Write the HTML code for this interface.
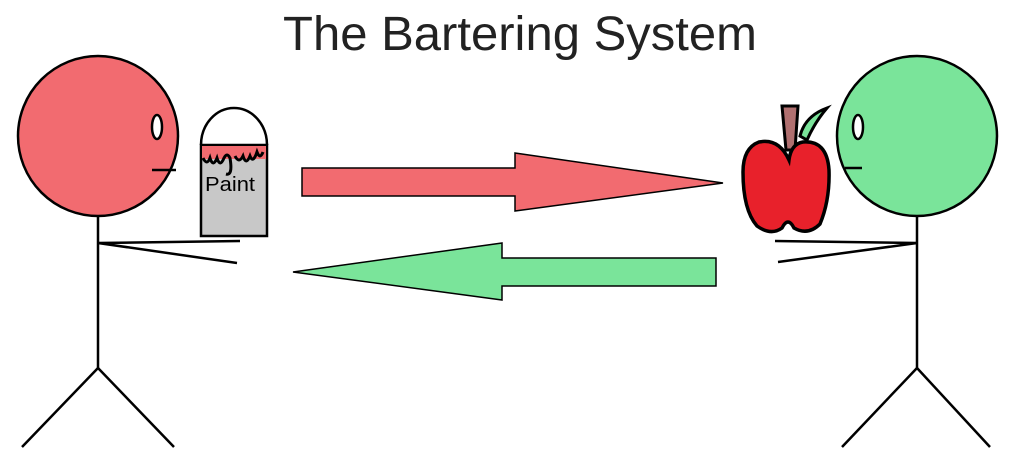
<!DOCTYPE html>
<html><head><meta charset="utf-8"><style>
html,body{margin:0;padding:0;background:#fff;width:1022px;height:468px;overflow:hidden}
svg{display:block}
</style></head><body>
<svg width="1022" height="468" viewBox="0 0 1022 468">
<text x="520" y="50" text-anchor="middle" font-family="Liberation Sans, sans-serif" font-size="48" fill="#222" textLength="474" lengthAdjust="spacingAndGlyphs">The Bartering System</text>
<g stroke="#000" stroke-width="2.5" fill="none">
<circle cx="98" cy="136" r="80" fill="#f26b70"/>
<ellipse cx="157" cy="127" rx="5" ry="12" fill="#fff"/>
<line x1="152" y1="170" x2="176" y2="170"/>
<line x1="98" y1="216" x2="98" y2="368"/>
<line x1="98" y1="243" x2="240" y2="241"/>
<line x1="98" y1="243" x2="237" y2="263"/>
<line x1="98" y1="368" x2="22" y2="447"/>
<line x1="98" y1="368" x2="174" y2="447"/>
</g>
<g>
<path d="M201 145 A33 37 0 0 1 267 145" fill="#fff" stroke="#000" stroke-width="2.5"/>
<rect x="201" y="145" width="66" height="91" fill="#c8c8c8" stroke="#000" stroke-width="2.5"/>
<rect x="202" y="146" width="64" height="13" fill="#f26b70"/>
<path d="M203 158 q4 8 7 0 q3 10 7 0 q3 10 7 0 q3 -6 6 0 q3 18 -4 16 M235 156 q4 8 8 0 q3 10 7 0 q3 8 7 -4 q3 8 6 0" fill="none" stroke="#000" stroke-width="3"/>
<text x="205" y="191" font-family="Liberation Sans, sans-serif" font-size="20" fill="#000" textLength="50" lengthAdjust="spacingAndGlyphs">Paint</text>
</g>
<polygon points="302,168 515,168 515,153 723,183 515,211 515,196 302,196" fill="#f26b70" stroke="#000" stroke-width="1.5"/>
<polygon points="716,258 502,258 502,243 293,272 502,300 502,286 716,286" fill="#7ae49a" stroke="#000" stroke-width="1.5"/>
<g>
<polygon points="782,106 798,106 795,150 786,150" fill="#b07070" stroke="#000" stroke-width="3"/>
<path d="M800 136 q5 -20 27 -28 q-12 14 -20 32 z" fill="#7ae49a" stroke="#000" stroke-width="3"/>
<path d="M789 160 q-10 -22 -30 -18 q-16 6 -16 30 q0 38 14 54 q14 10 25 2 q6 -12 12 0 q14 8 26 -4 q10 -24 9 -54 q-2 -30 -26 -28 q-12 2 -14 18 z" fill="#e8212b" stroke="#000" stroke-width="3.5"/>
</g>
<g stroke="#000" stroke-width="2.5" fill="none">
<circle cx="917" cy="136" r="80" fill="#7ae49a"/>
<ellipse cx="858" cy="127" rx="5" ry="12" fill="#fff"/>
<line x1="845" y1="168" x2="862" y2="168"/>
<line x1="917" y1="216" x2="917" y2="368"/>
<line x1="917" y1="243" x2="775" y2="241"/>
<line x1="917" y1="243" x2="778" y2="262"/>
<line x1="917" y1="368" x2="842" y2="447"/>
<line x1="917" y1="368" x2="990" y2="447"/>
</g>
</svg>
</body></html>
